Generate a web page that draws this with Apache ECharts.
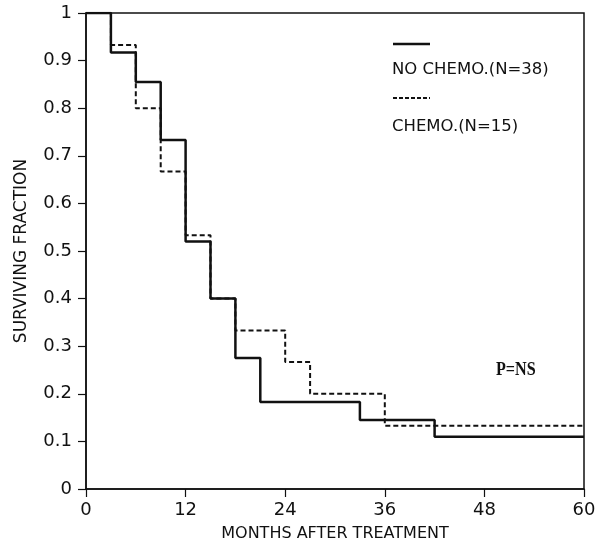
<!DOCTYPE html>
<html>
<head>
<meta charset="utf-8">
<script src="https://cdn.jsdelivr.net/npm/echarts@6/dist/echarts.min.js"></script>
<style>
  html, body { margin: 0; padding: 0; background: #fff; }
  #chart { width: 605px; height: 547px; }
</style>
</head>
<body>
<div id="chart"></div>
<script>
// Kaplan-Meier survival estimates (months after treatment, surviving fraction)
const noChemoMonths = [0, 3, 6, 9, 12, 15, 18, 21, 33, 42, 60];
const noChemoSurvival = [1, 0.917, 0.855, 0.733, 0.52, 0.40, 0.275, 0.183, 0.145, 0.11, 0.11];
const chemoMonths = [0, 3, 6, 9, 12, 15, 18, 24, 27, 36, 60];
const chemoSurvival = [1, 0.933, 0.80, 0.667, 0.533, 0.40, 0.333, 0.267, 0.20, 0.133, 0.133];

const xTicks = [0, 12, 24, 36, 48, 60];
const seriesNames = ['NO CHEMO.(N=38)', 'CHEMO.(N=15)'];
const pValueText = 'P=NS';

const pairs = (xs, ys) => xs.map((x, i) => [x, ys[i]]);

const font = 'DejaVu Sans';
const chart = echarts.init(document.getElementById('chart'));

chart.setOption({
  animation: false,
  backgroundColor: '#fff',
  grid: {
    left: 86, right: 21, top: 13, bottom: 53,
    show: true, borderColor: '#111', borderWidth: 1.5
  },
  xAxis: {
    type: 'value', min: 0, max: 60, interval: 12,
    name: 'MONTHS AFTER TREATMENT', nameLocation: 'middle', nameGap: 37,
    nameTextStyle: { fontFamily: font, fontSize: 16, color: '#111' },
    axisLine: { lineStyle: { color: '#111', width: 1.5 } },
    axisTick: { length: 8, lineStyle: { color: '#111', width: 1.2 } },
    axisLabel: {
      fontFamily: font, fontSize: 18, color: '#111', margin: 12,
      formatter: v => (xTicks.includes(v) ? String(v) : '')
    },
    splitLine: { show: false }
  },
  yAxis: {
    type: 'value', min: 0, max: 1, interval: 0.1,
    name: 'SURVIVING FRACTION', nameLocation: 'middle', nameGap: 56,
    nameTextStyle: { fontFamily: font, fontSize: 17, color: '#111' },
    axisLine: { lineStyle: { color: '#111', width: 1.5 } },
    axisTick: { length: 8, lineStyle: { color: '#111', width: 1.2 } },
    axisLabel: {
      fontFamily: font, fontSize: 18, color: '#111', margin: 14,
      formatter: v => String(Math.round(v * 10) / 10)
    },
    splitLine: { show: false }
  },
  series: [
    {
      name: seriesNames[0], type: 'line', step: 'end', symbol: 'none',
      data: pairs(noChemoMonths, noChemoSurvival),
      lineStyle: { color: '#111', width: 2.5 }, z: 3
    },
    {
      name: seriesNames[1], type: 'line', step: 'end', symbol: 'none',
      data: pairs(chemoMonths, chemoSurvival),
      lineStyle: { color: '#111', width: 2, type: [5, 3] }, z: 2
    }
  ],
  graphic: [
    { type: 'line', shape: { x1: 393, y1: 44, x2: 430, y2: 44 },
      style: { stroke: '#111', lineWidth: 2.5 } },
    { type: 'text', left: 392, top: 61,
      style: { text: seriesNames[0], font: '16.5px "DejaVu Sans"', fill: '#111' } },
    { type: 'line', shape: { x1: 393, y1: 98, x2: 430, y2: 98 },
      style: { stroke: '#111', lineWidth: 2, lineDash: [4, 2] } },
    { type: 'text', left: 392, top: 118,
      style: { text: seriesNames[1], font: '16.5px "DejaVu Sans"', fill: '#111' } },
    { type: 'text', left: 496, top: 361,
      style: { text: pValueText, font: 'bold 19px "Liberation Serif"', fill: '#111' },
      scaleX: 0.85 }
  ]
});
</script>
</body>
</html>
